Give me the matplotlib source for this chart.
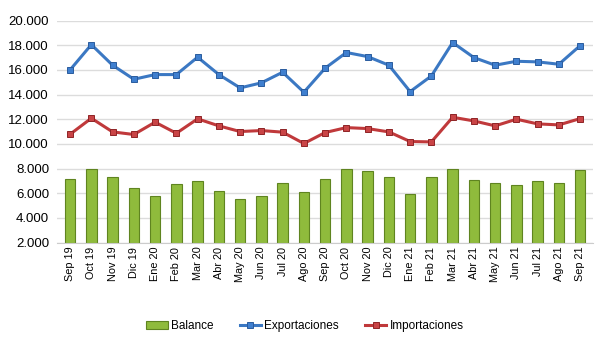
import matplotlib
matplotlib.use("Agg")
import matplotlib.pyplot as plt
from matplotlib.ticker import FuncFormatter
import numpy as np

plt.rcParams['font.family'] = ['Liberation Sans', 'DejaVu Sans']

# data (millones)
meses = ["Sep 19", "Oct 19", "Nov 19", "Dic 19", "Ene 20", "Feb 20", "Mar 20", "Abr 20",
         "May 20", "Jun 20", "Jul 20", "Ago 20", "Sep 20", "Oct 20", "Nov 20", "Dic 20",
         "Ene 21", "Feb 21", "Mar 21", "Abr 21", "May 21", "Jun 21", "Jul 21", "Ago 21", "Sep 21"]
exportaciones = [16000, 18050, 16380, 15240, 15620, 15620, 17030, 15620, 14540, 14950, 15810, 14190,
                 16140, 17410, 17080, 16380, 14240, 15510, 18220, 17000, 16380, 16700, 16650, 16460, 17970]
importaciones = [10780, 12080, 10970, 10760, 11760, 10860, 12030, 11460, 11000, 11080, 10950, 10030,
                 10920, 11320, 11240, 10970, 10190, 10160, 12160, 11860, 11460, 12000, 11620, 11540, 12050]
balance = [7160, 7950, 7350, 6460, 5810, 6760, 6950, 6140, 5540, 5810, 6860, 6110,
           7190, 8000, 7780, 7350, 5950, 7350, 8000, 7080, 6860, 6650, 6950, 6860, 7840]

x = np.arange(len(meses))
base = 2000

fig = plt.figure(figsize=(6.1, 3.43), dpi=100)
ax = fig.add_axes([0.094, 0.293, 0.878, 0.647])

b = ax.bar(x, np.array(balance) - base, bottom=base, width=0.5, color="#8fbb3c",
           edgecolor="#5f8420", linewidth=0.8, label="Balance", zorder=2)
l1, = ax.plot(x, exportaciones, color="#3b78c3", lw=2.2, marker="s", ms=4.2,
              mfc="#3f7fcf", mec="#2a5c9e", mew=0.7, label="Exportaciones", zorder=3)
l2, = ax.plot(x, importaciones, color="#c0393b", lw=2.2, marker="s", ms=4.2,
              mfc="#c94446", mec="#8f2426", mew=0.7, label="Importaciones", zorder=3)

ax.set_ylim(2000, 20000)
ax.set_yticks(range(2000, 20001, 2000))
ax.yaxis.set_major_formatter(FuncFormatter(lambda v, p: f"{int(v):,}".replace(",", ".")))
ax.set_xlim(-0.6, len(meses) - 0.4)
ax.set_xticks(x)
ax.set_xticklabels(meses, rotation=90, fontsize=7.8)
ax.tick_params(axis="y", labelsize=9.5, length=0, pad=6)
ax.tick_params(axis="x", length=0, pad=3)
ax.grid(axis="y", color="#dcdcdc", lw=1, zorder=0)
for s in ["top", "right", "left"]:
    ax.spines[s].set_visible(False)
ax.spines["bottom"].set_color("#cccccc")

fig.legend([b, l1, l2], ["Balance", "Exportaciones", "Importaciones"],
           loc="lower center", bbox_to_anchor=(0.5, 0.0), ncol=3, frameon=False,
           fontsize=8.5, handlelength=1.8, columnspacing=2.2, handletextpad=0.3)

fig.savefig("out.png", dpi=100)
